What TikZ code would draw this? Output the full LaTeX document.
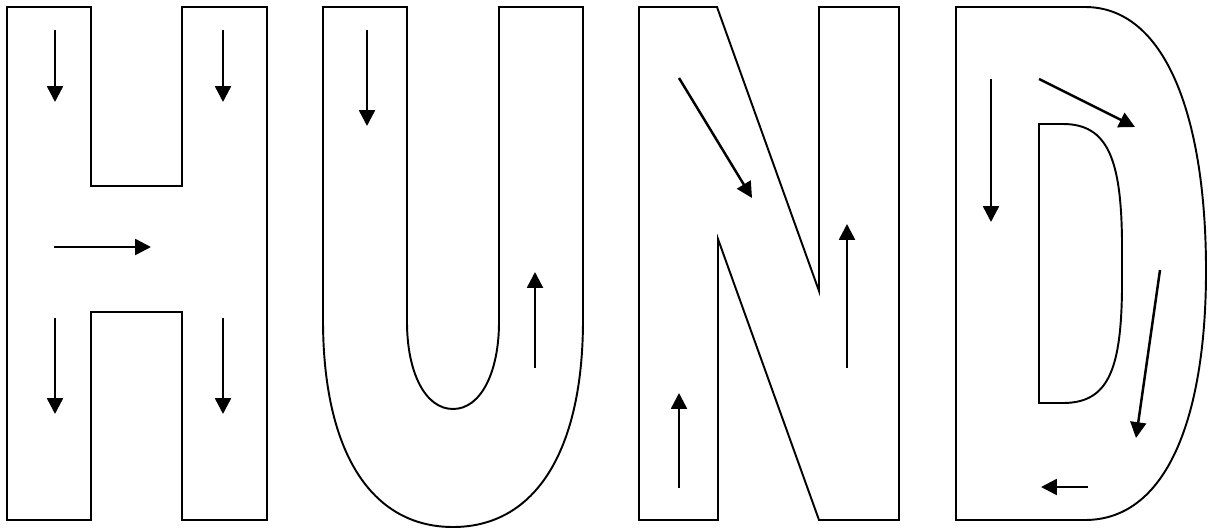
\documentclass[tikz,border=0pt]{standalone}
\usetikzlibrary{arrows.meta}

\begin{document}
\begin{tikzpicture}[
    x=0.02cm, y=-0.02cm,
    >={Triangle[length=9pt, width=9pt]},
    letter/.style={draw=black, line width=1.1pt, line join=miter, fill=white},
    flow/.style={->, line width=1.4pt, black}
  ]
    \useasboundingbox (0,0) rectangle (1208,531);
    % H
    \draw[letter] (7,7) -- (91,7) -- (91,186) -- (182,186) -- (182,7) -- (267,7)
      -- (267,520) -- (182,520) -- (182,312) -- (91,312) -- (91,520) -- (7,520) -- cycle;
    \draw[flow] (55,30) -- (55,102);
    \draw[flow] (223,30) -- (223,102);
    \draw[flow] (54,247) -- (151,247);
    \draw[flow] (55,318) -- (55,414);
    \draw[flow] (223,318) -- (223,414);
    % U
    \draw[letter] (323,7) -- (407,7) -- (407,322)
      .. controls (407,372) and (425,409) .. (453,409)
      .. controls (481,409) and (499,372) .. (499,322)
      -- (499,7) -- (583,7) -- (583,320)
      .. controls (583,450) and (536,527) .. (453,527)
      .. controls (370,527) and (323,450) .. (323,320) -- cycle;
    \draw[flow] (367,30) -- (367,126);
    \draw[flow] (535,368) -- (535,272);
    % N
    \draw[letter] (639,7) -- (717,7) -- (819,291) -- (819,7) -- (899,7) -- (899,520)
      -- (819,520) -- (718,239) -- (718,520) -- (639,520) -- cycle;
    \draw[flow] (679,78) -- (752,198);
    \draw[flow] (679,488) -- (679,393);
    \draw[flow] (847,368) -- (847,224);
    % D
    \draw[letter] (956,7) -- (1085,7)
      .. controls (1165,7) and (1205,115) .. (1206,265)
      .. controls (1207,410) and (1170,520) .. (1085,520)
      -- (956,520) -- cycle;
    \draw[letter] (1039,124) -- (1063,124)
      .. controls (1108,124) and (1121,160) .. (1122,240)
      -- (1122,290)
      .. controls (1121,370) and (1108,403) .. (1063,403)
      -- (1039,403) -- cycle;
    \draw[flow] (991,79) -- (991,222);
    \draw[flow] (1039,79) -- (1135,127);
    \draw[flow] (1160,270) -- (1136,438);
    \draw[flow] (1088,487) -- (1041,487);
  \end{tikzpicture}
\end{document}
